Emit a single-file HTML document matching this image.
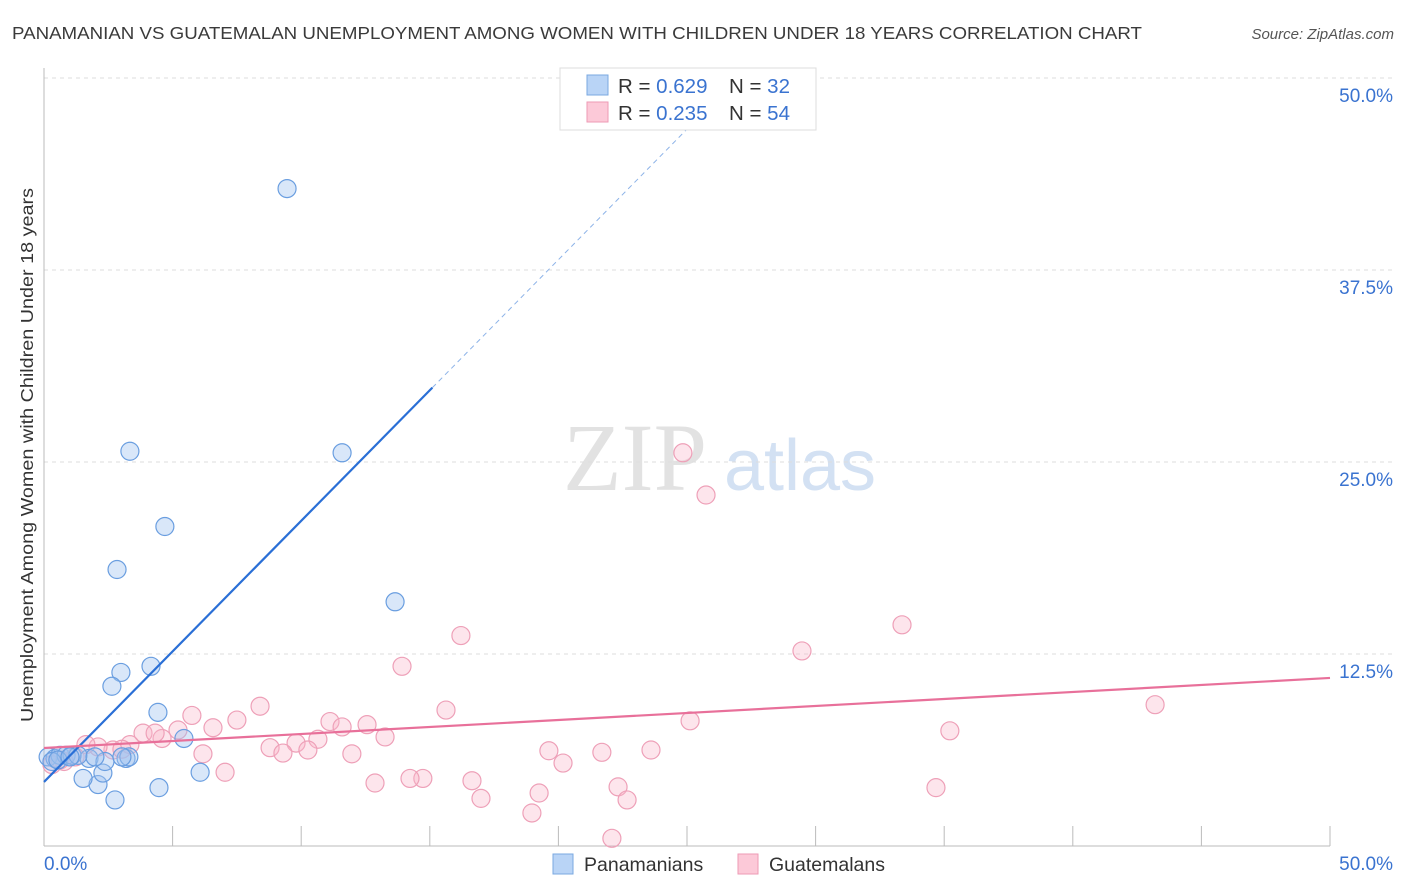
<!DOCTYPE html>
<html><head><meta charset="utf-8"><style>
body{margin:0;background:#fff;width:1406px;height:892px;overflow:hidden;font-family:"Liberation Sans",sans-serif}
svg{position:absolute;left:0;top:0}
</style></head><body>
<svg id="chart" width="1406" height="892" xmlns="http://www.w3.org/2000/svg">
<text x="12" y="39" font-size="17.5" fill="#3a3a3a" textLength="1130" lengthAdjust="spacingAndGlyphs">PANAMANIAN VS GUATEMALAN UNEMPLOYMENT AMONG WOMEN WITH CHILDREN UNDER 18 YEARS CORRELATION CHART</text>
<text x="1394" y="39" font-size="15" fill="#555" text-anchor="end" font-style="italic">Source: ZipAtlas.com</text>
<g>
<text x="635" y="490" font-size="96" fill="#e2e2e2" font-family="Liberation Serif,serif" text-anchor="middle">ZIP</text>
<text x="800" y="490" font-size="72" fill="#d3e1f3" text-anchor="middle">atlas</text>
</g>
<g id="grid"></g>
<g id="axes"></g>
<g id="pts"></g>
<g id="lines"></g>
<text transform="translate(33,455) rotate(-90)" font-size="17.5" fill="#333" text-anchor="middle" textLength="534" lengthAdjust="spacingAndGlyphs">Unemployment Among Women with Children Under 18 years</text>
<g>
<rect x="560" y="68" width="256" height="62" fill="#fff" stroke="#ddd"/>
<rect x="587" y="75" width="21" height="20" fill="#b9d4f6" stroke="#7aa8e0"/>
<rect x="587" y="102" width="21" height="20" fill="#fcc9d8" stroke="#ee9ab5"/>
<text x="618" y="93" font-size="20.5" fill="#333">R = <tspan fill="#3a73d0">0.629</tspan></text>
<text x="729" y="93" font-size="20.5" fill="#333">N = <tspan fill="#3a73d0"> 32</tspan></text>
<text x="618" y="120" font-size="20.5" fill="#333">R = <tspan fill="#3a73d0">0.235</tspan></text>
<text x="729" y="120" font-size="20.5" fill="#333">N = <tspan fill="#3a73d0">54</tspan></text>
</g>
<g>
<rect x="553" y="854" width="20" height="20" fill="#b9d4f6" stroke="#7aa8e0"/>
<text x="584" y="871" font-size="19.5" fill="#333">Panamanians</text>
<rect x="738" y="854" width="20" height="20" fill="#fcc9d8" stroke="#ee9ab5"/>
<text x="769" y="871" font-size="19.5" fill="#333">Guatemalans</text>
</g>
</svg>
<script>
const xTicks=[0,5,10,15,20,25,30,35,40,45,50];
const yTicks=[12.5,25,37.5,50];
const yTickLabels=["12.5%","25.0%","37.5%","50.0%"];
const xLabels=["0.0%","50.0%"];
const blueX=[9.45,3.34,11.59,4.70,2.84,13.65,4.16,2.99,2.64,4.43,5.44,6.07,4.47,2.76,2.10,1.52,2.29,1.75,2.37,3.19,3.30,3.03,0.16,0.43,0.62,0.86,1.09,1.32,0.31,1.98,0.54,1.01];
const blueY=[42.8,25.7,25.6,20.8,18.0,15.9,11.7,11.3,10.4,8.7,7.0,4.8,3.8,3.0,4.0,4.4,4.75,5.7,5.5,5.7,5.8,5.8,5.8,5.7,5.9,5.9,5.9,5.9,5.5,5.8,5.6,5.8];
const pinkX=[24.84,25.74,16.21,33.36,29.47,13.92,43.20,15.63,8.40,7.50,5.75,11.12,12.56,11.59,5.21,6.57,3.85,4.59,4.32,13.26,10.65,9.80,8.79,10.26,9.29,6.18,3.34,2.68,2.10,1.63,3.03,25.12,35.22,19.63,21.69,23.60,20.18,11.97,7.04,14.73,14.23,12.87,16.64,22.32,16.99,19.25,22.67,18.97,34.68,22.08,0.78,0.31,1.21,0.62];
const pinkY=[25.6,22.85,13.7,14.4,12.7,11.7,9.2,8.85,9.1,8.2,8.5,8.1,7.9,7.75,7.55,7.7,7.35,7.0,7.35,7.1,6.95,6.7,6.4,6.25,6.05,6.0,6.6,6.25,6.45,6.6,6.3,8.15,7.5,6.2,6.1,6.25,5.4,6.0,4.8,4.4,4.4,4.1,4.25,3.85,3.1,3.45,3.0,2.15,3.8,0.5,5.5,5.3,5.8,5.6];
const blueFit=[4.17,1.70]; // intercept, slope
const pinkFit=[6.38,0.0912];
const X=v=>44+v/50*1286, Y=v=>846-v/12.5*192;
const NS="http://www.w3.org/2000/svg";
function mk(t,a,p){const e=document.createElementNS(NS,t);for(const k in a)e.setAttribute(k,a[k]);p.appendChild(e);return e;}
const grid=document.getElementById('grid'),axes=document.getElementById('axes'),pts=document.getElementById('pts'),lines=document.getElementById('lines');
yTicks.forEach((t,i)=>{
 const l=mk('line',{x1:44,x2:1393,y1:Y(t),y2:Y(t),stroke:'#ddd','stroke-dasharray':'4,4'},grid);
 
 
 const tx=mk('text',{x:1393,y:Y(t)+24,'font-size':19,fill:'#3a73d0','text-anchor':'end'},axes);
 tx.textContent=yTickLabels[i];
 
 
});
const ax=mk('line',{x1:44,x2:44,y1:68,y2:846,stroke:'#bbb'},axes);


const bx=mk('line',{x1:44,x2:1330,y1:846,y2:846,stroke:'#bbb'},axes);


xTicks.slice(1).forEach(t=>{
 const l=mk('line',{x1:X(t),x2:X(t),y1:826,y2:846,stroke:'#bbb'},axes);
 
 
});
const x0=mk('text',{x:44,y:870,'font-size':19,fill:'#3a73d0'},axes);x0.textContent=xLabels[0];


const x1=mk('text',{x:1393,y:870,'font-size':19,fill:'#3a73d0','text-anchor':'end'},axes);x1.textContent=xLabels[1];


pinkX.forEach((v,i)=>{
 const c=mk('circle',{cx:X(v),cy:Y(pinkY[i]),r:9,fill:'rgba(248,180,200,0.35)',stroke:'#eea0b8','stroke-width':1.2},pts);
 
 
});
blueX.forEach((v,i)=>{
 const c=mk('circle',{cx:X(v),cy:Y(blueY[i]),r:9,fill:'rgba(160,196,240,0.4)',stroke:'#6a9ee0','stroke-width':1.2},pts);
 
 
});
const be=15.1;
const bl=mk('line',{x1:X(0),y1:Y(blueFit[0]),x2:X(be),y2:Y(blueFit[0]+blueFit[1]*be),stroke:'#2a6fd6','stroke-width':2.2},lines);


const bd=26.3;
const bdl=mk('line',{x1:X(be),y1:Y(blueFit[0]+blueFit[1]*be),x2:X(bd),y2:Y(blueFit[0]+blueFit[1]*bd),stroke:'#8db3e8','stroke-width':1,'stroke-dasharray':'5,4'},lines);


const pl=mk('line',{x1:X(0),y1:Y(pinkFit[0]),x2:X(50),y2:Y(pinkFit[0]+pinkFit[1]*50),stroke:'#e8709a','stroke-width':2.2},lines);


</script>
</body></html>
